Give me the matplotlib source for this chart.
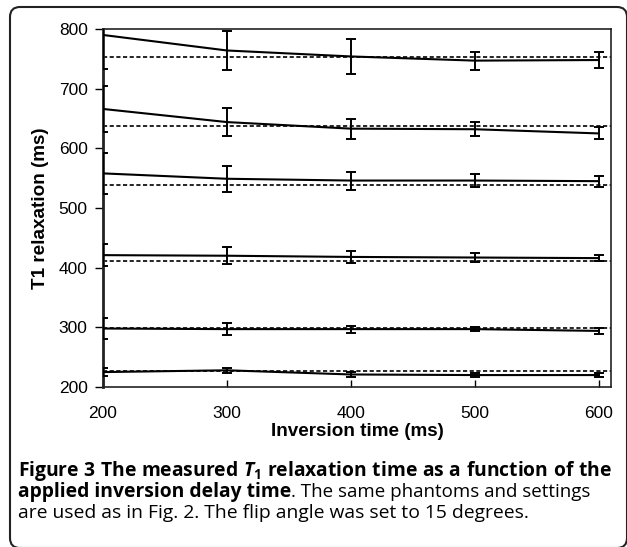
import matplotlib
matplotlib.use('Agg')
import matplotlib.pyplot as plt
from matplotlib.patches import FancyBboxPatch
from matplotlib.transforms import IdentityTransform

plt.rcParams['font.family'] = ['Liberation Sans', 'DejaVu Sans']
plt.rcParams['mathtext.fontset'] = 'custom'
plt.rcParams['mathtext.rm'] = 'Open Sans'
plt.rcParams['mathtext.it'] = 'Open Sans:italic'
plt.rcParams['mathtext.bf'] = 'Open Sans:bold'
try:
    plt.rcParams['mathtext.bfit'] = 'Open Sans:bold:italic'
except KeyError:
    pass

# inversion delay times (ms)
inv_time = [200, 300, 400, 500, 600]

# measured T1 (mean) and error bar half-widths for the six phantoms
t1_a = [790, 764, 754, 747, 748]
err_a = [57, 33, 30, 15, 13]
t1_b = [666, 644, 633, 632, 625]
err_b = [39, 23, 17, 12, 10]
t1_c = [558, 549, 546, 546, 545]
err_c = [35, 22, 15, 11, 9]
t1_d = [421, 420, 418, 417, 416]
err_d = [19, 14, 10, 7, 5]
t1_e = [298, 297, 297, 297, 294]
err_e = [18, 10, 6, 3, 5]
t1_f = [225, 228, 221, 220, 220]
err_f = [7, 4, 4, 3, 4]

# reference T1 values (dashed lines)
t1_ref = [753, 638, 539, 411, 299, 227]

yticks = [200, 300, 400, 500, 600, 700, 800]
xticks = [200, 300, 400, 500, 600]

W, H = 627, 547
fig = plt.figure(figsize=(W / 100, H / 100), dpi=100)
ax = fig.add_axes([103 / W, 1 - 387 / H, (611 - 103) / W, (387 - 29) / H])

for ref in t1_ref:
    ax.axhline(ref, color='black', lw=1.2, ls=(0, (2.5, 1.5)), zorder=2)

for y, e in [(t1_a, err_a), (t1_b, err_b), (t1_c, err_c),
             (t1_d, err_d), (t1_e, err_e), (t1_f, err_f)]:
    ax.errorbar(inv_time, y, yerr=e, color='black', lw=1.5, elinewidth=1.4,
                capsize=3.5, capthick=1.4, zorder=3)

ax.set_xlim(200, 610)
ax.set_ylim(200, 800)
ax.set_xticks(xticks)
ax.set_yticks(yticks)
ax.tick_params(axis='x', direction='in', length=5, width=1, pad=14, labelsize=12.5)
ax.tick_params(axis='y', direction='out', length=6, width=1, pad=5, labelsize=12.5)
for s in ax.spines.values():
    s.set_linewidth(1.2)
    s.set_color('#222222')
ax.spines['left'].set_linewidth(2)

ax.set_xlabel('Inversion time (ms)', fontsize=13.6, fontweight='bold', labelpad=1)
ax.set_ylabel('T1 relaxation (ms)', fontsize=13.6, fontweight='bold', labelpad=7)

# rounded frame around figure + caption
frame = FancyBboxPatch((10, -1), 617, 541, boxstyle='round,pad=0,rounding_size=10',
                       transform=IdentityTransform(), fc='none', ec='#222222', lw=1.5)
fig.add_artist(frame)

cap_fs = 13.9
cap_font = ['Open Sans', 'DejaVu Sans']
fig.text(18 / W, 1 - 476 / H,
         r'$\mathbf{Figure\ 3\ The\ measured\ }\mathbfit{T}_{\mathbf{1}}'
         r'\mathbf{\ relaxation\ time\ as\ a\ function\ of\ the}$',
         fontsize=cap_fs, va='baseline', ha='left')

renderer = fig.canvas.get_renderer()
t = fig.text(18 / W, 1 - 497 / H, 'applied inversion delay time', fontsize=cap_fs,
             fontweight='bold', va='baseline', ha='left', family=cap_font)
x_end = t.get_window_extent(renderer).x1
fig.text(x_end / W, 1 - 497 / H, '. The same phantoms and settings', fontsize=13.5,
         va='baseline', ha='left', family=cap_font)
fig.text(18 / W, 1 - 518 / H,
         'are used as in Fig. 2. The flip angle was set to 15 degrees.',
         fontsize=cap_fs, va='baseline', ha='left', family=cap_font)

fig.savefig('out.png', dpi=100)
